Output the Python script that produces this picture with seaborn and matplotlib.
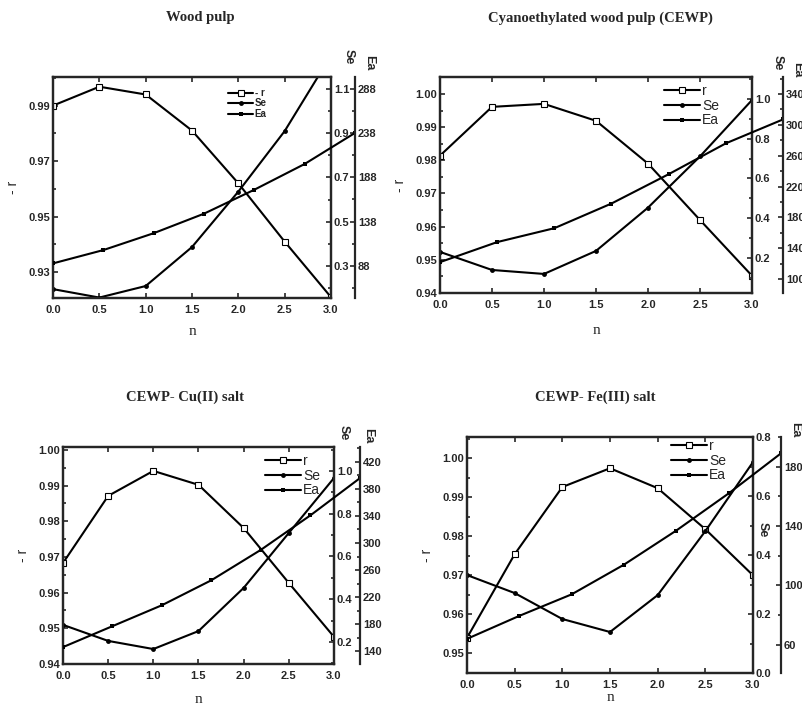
import numpy as np
import matplotlib
matplotlib.use("Agg")
import matplotlib.pyplot as plt
from matplotlib.ticker import AutoMinorLocator, FormatStrFormatter
import seaborn as sns

# order of reaction n (x axis)
n = [0.0, 0.5, 1.0, 1.5, 2.0, 2.5, 3.0]

# values
wood_r = [0.990, 0.9968, 0.994, 0.981, 0.962, 0.941, 0.921]
wood_se = [0.196, 0.158, 0.21, 0.386, 0.636, 0.909, 1.25]
wood_ea = [91, 106, 125, 147, 174, 203, 238]

cewp_r = [0.9814, 0.9961, 0.997, 0.9919, 0.979, 0.962, 0.9452]
cewp_se = [0.23, 0.139, 0.119, 0.235, 0.453, 0.711, 0.995]
cewp_ea = [122, 148, 166, 198, 236, 276, 307]

cu_r = [0.9683, 0.9871, 0.9941, 0.9902, 0.9781, 0.9627, 0.9476]
cu_se = [0.28, 0.205, 0.167, 0.251, 0.453, 0.71, 0.967]
cu_ea = [146, 177, 208, 245, 290, 341, 396]

fe_r = [0.954, 0.9754, 0.9926, 0.9974, 0.9923, 0.9818, 0.970]
fe_se = [0.332, 0.271, 0.183, 0.139, 0.264, 0.481, 0.715]
fe_ea = [64, 79.5, 94, 114, 137, 162, 189]

titles = ["Wood pulp", "Cyanoethylated wood pulp (CEWP)",
          "CEWP- Cu(II) salt", "CEWP- Fe(III) salt"]
r_labels = ["- r", "r", "r", "r"]

W, H = 803, 708


def fx(x):
    return x / W


def fy(y):
    return 1 - y / H


# layout of each panel in pixels: left, right, top, bottom, ea spine x
panels = [
    dict(r=wood_r, se=wood_se, ea=wood_ea, box=(53, 331, 77, 298), ea_x=355,
         r_lim=(0.9207, 1.0003), r_ticks=[0.93, 0.95, 0.97, 0.99],
         se_lim=(0.156, 1.153), se_ticks=[0.3, 0.5, 0.7, 0.9, 1.1],
         ea_lim=(52, 301), ea_ticks=[88, 138, 188, 238, 288],
         title_xy=(200, 18), leg_xy=(228, 88), leg_fs=7,
         se_lab=(349, 57), ea_lab=(369, 63), n_pad=7),
    dict(r=cewp_r, se=cewp_se, ea=cewp_ea, box=(440, 752, 77, 293), ea_x=783,
         r_lim=(0.94, 1.0051), r_ticks=[0.94, 0.95, 0.96, 0.97, 0.98, 0.99, 1.00],
         se_lim=(0.023, 1.111), se_ticks=[0.2, 0.4, 0.6, 0.8, 1.0],
         ea_lim=(82, 362), ea_ticks=[100, 140, 180, 220, 260, 300, 340],
         title_xy=(600, 18), leg_xy=(664, 84), leg_fs=10,
         se_lab=(778, 63), ea_lab=(797, 70), n_pad=10),
    dict(r=cu_r, se=cu_se, ea=cu_ea, box=(63, 334, 447, 664), ea_x=360,
         r_lim=(0.94, 1.0008), r_ticks=[0.94, 0.95, 0.96, 0.97, 0.98, 0.99, 1.00],
         se_lim=(0.097, 1.112), se_ticks=[0.2, 0.4, 0.6, 0.8, 1.0],
         ea_lim=(121, 442), ea_ticks=[140, 180, 220, 260, 300, 340, 380, 420],
         title_xy=(185, 397), leg_xy=(265, 454), leg_fs=10,
         se_lab=(344, 433), ea_lab=(368, 436), n_pad=9),
    dict(r=fe_r, se=fe_se, ea=fe_ea, box=(467, 753, 437, 673), ea_x=781,
         r_lim=(0.945, 1.0054), r_ticks=[0.95, 0.96, 0.97, 0.98, 0.99, 1.00],
         se_lim=(0.0, 0.8), se_ticks=[0.0, 0.2, 0.4, 0.6, 0.8],
         ea_lim=(41, 200), ea_ticks=[60, 100, 140, 180],
         title_xy=(595, 397), leg_xy=(671, 439), leg_fs=10,
         se_lab=(763, 530), ea_lab=(795, 430), n_pad=1),
]

sns.set_style("ticks")
plt.rcParams["font.family"] = ["Liberation Sans", "DejaVu Sans"]
plt.rcParams["font.weight"] = "bold"

fig = plt.figure(figsize=(W / 100, H / 100), dpi=100)

tick_kw = dict(direction="in", labelsize=8, width=1.2, length=3.5, pad=2)

for i, p in enumerate(panels):
    left, right, top, bottom = p["box"]
    rect = [fx(left), fy(bottom), fx(right - left), (bottom - top) / H]
    ax = fig.add_axes(rect)
    ax_se = ax.twinx()
    # Ea curve sits on its own overlay reaching out to the Ea spine
    ax_ea = fig.add_axes([fx(left), fy(bottom), fx(p["ea_x"] - left), (bottom - top) / H])
    ax_ea.patch.set_visible(False)
    for s in ["left", "top", "bottom"]:
        ax_ea.spines[s].set_visible(False)
    ax_ea.xaxis.set_visible(False)
    ax_ea.yaxis.tick_right()

    sns.lineplot(x=n, y=p["r"], ax=ax, color="black", linewidth=1.5,
                 marker="s", markersize=4, markerfacecolor="white",
                 markeredgecolor="black", markeredgewidth=0.8)
    sns.lineplot(x=n, y=p["se"], ax=ax_se, color="black", linewidth=1.5,
                 marker="o", markersize=3.5, markeredgewidth=0)
    sns.lineplot(x=n, y=p["ea"], ax=ax_ea, color="black", linewidth=1.5,
                 marker="s", markersize=3.5, markeredgewidth=0)

    for a in (ax, ax_se, ax_ea):
        a.set_xlim(0, 3)
        for s in a.spines.values():
            s.set_linewidth(1.6)
    ax.set_ylim(*p["r_lim"])
    ax_se.set_ylim(*p["se_lim"])
    ax_ea.set_ylim(*p["ea_lim"])

    ax.set_xticks(n)
    ax.xaxis.set_major_formatter(FormatStrFormatter("%.1f"))
    ax.set_yticks(p["r_ticks"])
    ax.yaxis.set_major_formatter(FormatStrFormatter("%.2f"))
    ax.yaxis.set_minor_locator(AutoMinorLocator(2))
    ax.tick_params(axis="both", which="both", top=True, **tick_kw)
    ax.tick_params(axis="x", pad=5)
    ax.tick_params(which="minor", length=2)

    ax_se.set_yticks(p["se_ticks"])
    ax_se.yaxis.set_major_formatter(FormatStrFormatter("%.1f"))
    ax_se.yaxis.set_minor_locator(AutoMinorLocator(2))
    ax_se.tick_params(axis="y", which="both", **tick_kw)
    ax_se.tick_params(which="minor", length=2)

    ax_ea.set_yticks(p["ea_ticks"])
    ax_ea.yaxis.set_minor_locator(AutoMinorLocator(2))
    ax_ea.tick_params(axis="y", which="both", **tick_kw)
    ax_ea.tick_params(which="minor", length=2)

    ax.set_xlabel("n", family="Liberation Serif", fontsize=11,
                  fontweight="normal", labelpad=p["n_pad"])
    ax.set_ylabel("- r", fontsize=10, labelpad=6)

    fig.text(fx(p["title_xy"][0]), fy(p["title_xy"][1]), titles[i],
             family="Liberation Serif", fontsize=10.5, fontweight="bold",
             ha="center", va="center")
    fig.text(fx(p["se_lab"][0]), fy(p["se_lab"][1]), "Se", rotation=270,
             fontsize=9, ha="center", va="center")
    fig.text(fx(p["ea_lab"][0]), fy(p["ea_lab"][1]), "Ea", rotation=270,
             fontsize=9, ha="center", va="center")

    handles = [ax.get_lines()[0], ax_se.get_lines()[0], ax_ea.get_lines()[0]]
    leg = ax_ea.legend(handles, [r_labels[i], "Se", "Ea"], loc="upper left",
                       bbox_to_anchor=(fx(p["leg_xy"][0]), fy(p["leg_xy"][1])),
                       bbox_transform=fig.transFigure, frameon=False,
                       fontsize=p["leg_fs"], handlelength=2.6, handletextpad=0.15,
                       labelspacing=0.05, borderpad=0, borderaxespad=0)
    for t in leg.get_texts():
        t.set_fontweight("bold" if i == 0 else "normal")

fig.savefig("out.png", dpi=100)
